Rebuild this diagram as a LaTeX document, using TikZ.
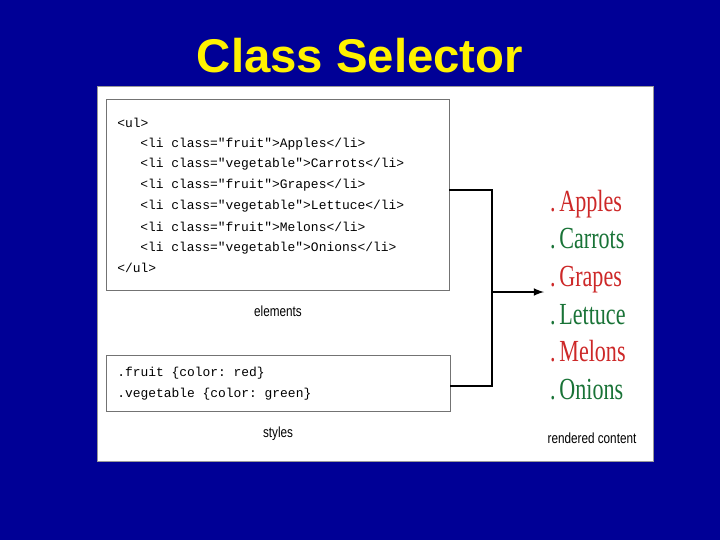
\documentclass[tikz,border=0pt]{standalone}
\usepackage{fontspec}
\setmainfont{Liberation Serif}
\setsansfont{Liberation Sans}
\setmonofont{Liberation Mono}
\begin{document}
\begin{tikzpicture}[x=0.75pt,y=-0.75pt,
  box/.style={draw=black!55,line width=1pt,fill=white},
  code/.style={anchor=west,inner sep=0,font=\ttfamily\fontsize{9.7}{12}\selectfont},
  lbl/.style={inner sep=0,font=\sffamily\fontsize{11}{13}\selectfont,xscale=0.8},
  item/.style={anchor=base west,inner sep=0,font=\fontsize{23}{26}\selectfont,xscale=0.72},
  conn/.style={line width=1.6pt,black}]
\definecolor{navy}{RGB}{0,0,150}
\definecolor{ired}{RGB}{205,40,40}
\definecolor{igreen}{RGB}{25,115,55}
\fill[navy] (0,0) rectangle (720,540);
\node[font=\sffamily\bfseries\fontsize{35.5}{38}\selectfont,text=yellow,inner sep=0] (title) at (360,56) {Class Selector};
\draw[fill=white,draw=black!40] (97,86) rectangle (653,461);
\node[box,minimum width=343*0.75pt,minimum height=191*0.75pt,anchor=north west,inner sep=0] (el) at (106,99) {};
\node[box,minimum width=344*0.75pt,minimum height=56*0.75pt,anchor=north west,inner sep=0] (st) at (106,355) {};
\node[code] (c0) at (117,123) {<ul>};
\node[code] (c1) at (140,144) {<li class="fruit">Apples</li>};
\node[code] (c2) at (140,164) {<li class="vegetable">Carrots</li>};
\node[code] (c3) at (140,185) {<li class="fruit">Grapes</li>};
\node[code] (c4) at (140,206) {<li class="vegetable">Lettuce</li>};
\node[code] (c5) at (140,227) {<li class="fruit">Melons</li>};
\node[code] (c6) at (140,248) {<li class="vegetable">Onions</li>};
\node[code] (c7) at (117,268) {</ul>};
\node[code] (s1) at (117,373) {.fruit \{color: red\}};
\node[code] (s2) at (117,394) {.vegetable \{color: green\}};
\node[lbl] (le) at (278,311) {elements};
\node[lbl] (ls) at (278,434) {styles};
\node[lbl] (lr) at (592,438) {rendered content};
\coordinate (j1) at (492,190);
\coordinate (j2) at (492,386);
\coordinate (jm) at (492,292);
\coordinate (tip) at (544,292);
\draw[conn] (449,190) -- (j1) -- (j2) -- (450,386);
\draw[conn,-latex] (jm) -- (tip);
\foreach \t/\c/\y [count=\i] in {Apples/ired/211,Carrots/igreen/248,Grapes/ired/286,Lettuce/igreen/324,Melons/ired/361,Onions/igreen/399}
  \node[item,text=\c] (r\i) at (550,\y) {.\,\t};
\end{tikzpicture}
\end{document}
